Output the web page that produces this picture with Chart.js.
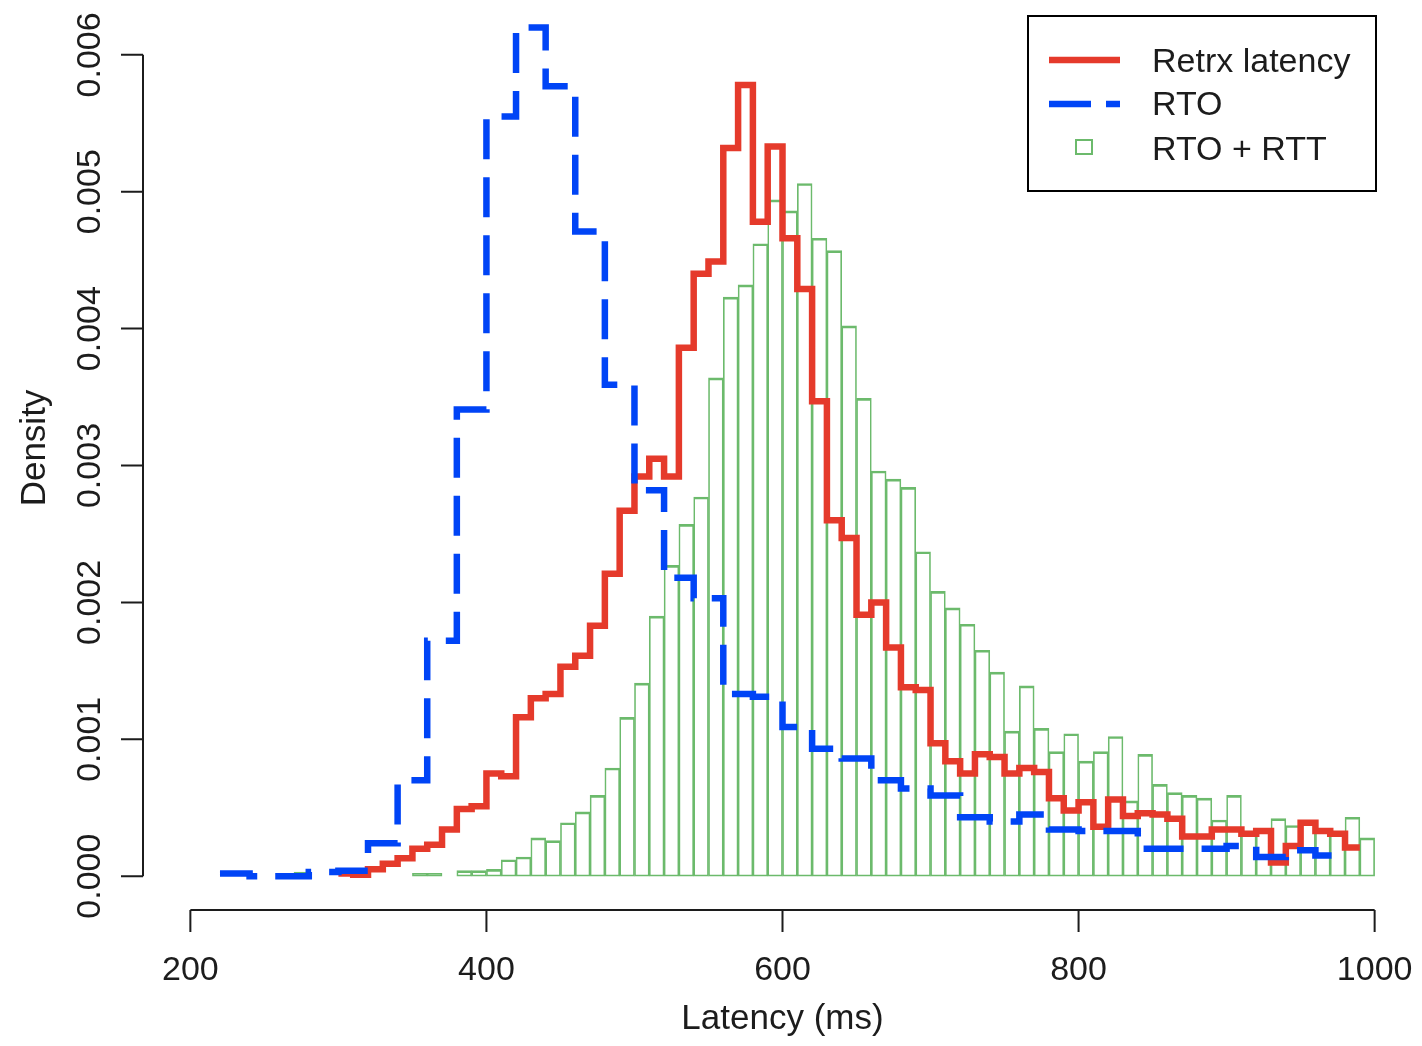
<!DOCTYPE html>
<html>
<head>
<meta charset="utf-8">
<title>Retransmission latency</title>
<script src="https://cdn.jsdelivr.net/npm/chart.js@4.4.1/dist/chart.umd.min.js"></script>
<style>
  html, body { margin: 0; padding: 0; background: #fff; }
  #wrap { width: 1422px; height: 1046px; }
</style>
</head>
<body>
<div id="wrap"><canvas id="latencyChart" width="1422" height="1046"></canvas></div>
<script>
// Axis ticks
const xTicks = [200, 400, 600, 800, 1000];
const yTicks = [0, 0.001, 0.002, 0.003, 0.004, 0.005, 0.006];
const yTickLabels = ['0.000', '0.001', '0.002', '0.003', '0.004', '0.005', '0.006'];

// Retrx latency: 10 ms bins, left edges 300 .. 980
const retrxStart = 300;
const retrxWidth = 10;
const retrxDensity = [
  0.00002, 0.00001, 0.00005, 0.00009, 0.00013, 0.00020, 0.00023, 0.00034, 0.00049, 0.00051,
  0.00075, 0.00073, 0.00116, 0.00130, 0.00133, 0.00153, 0.00161, 0.00183, 0.00221, 0.00267,
  0.00292, 0.00305, 0.00292, 0.00386, 0.00440, 0.00449, 0.00532, 0.00578, 0.00478, 0.00533,
  0.00466, 0.00429, 0.00347, 0.00260, 0.00247, 0.00191, 0.00200, 0.00167, 0.00138, 0.00136,
  0.00097, 0.00084, 0.00075, 0.00089, 0.00087, 0.00075, 0.00079, 0.00076, 0.00057, 0.00048,
  0.00054, 0.00036, 0.00056, 0.00044, 0.00046, 0.00045, 0.00042, 0.00029, 0.00029, 0.00034,
  0.00034, 0.00031, 0.00033, 0.00010, 0.00022, 0.00039, 0.00033, 0.00031, 0.00021
];

// RTO: 20 ms bins, left edges 220 .. 960
const rtoStart = 220;
const rtoWidth = 20;
const rtoDensity = [
  0.00002, 0.00000, 0.00000, 0.00003, 0.00004, 0.00024, 0.00070, 0.00172, 0.00341, 0.00555,
  0.00620, 0.00577, 0.00471, 0.00359, 0.00282, 0.00218, 0.00203, 0.00133, 0.00131, 0.00109,
  0.00093, 0.00086, 0.00070, 0.00064, 0.00059, 0.00043, 0.00040, 0.00045, 0.00034, 0.00033,
  0.00033, 0.00020, 0.00020, 0.00020, 0.00022, 0.00014, 0.00019, 0.00015
];

// RTO + RTT histogram: 10 ms bins, left edges 270 .. 990
const rttStart = 270;
const rttWidth = 10;
const rttDensity = [
  0.00003, 0.00000, 0.00000, 0.00000, 0.00000, 0.00000, 0.00000, 0.00000, 0.00002, 0.00002,
  0.00000, 0.00004, 0.00004, 0.00005, 0.00012, 0.00014, 0.00028, 0.00026, 0.00039, 0.00047,
  0.00059, 0.00079, 0.00116, 0.00141, 0.00190, 0.00227, 0.00257, 0.00277, 0.00364, 0.00423,
  0.00432, 0.00462, 0.00494, 0.00486, 0.00506, 0.00466, 0.00457, 0.00402, 0.00349, 0.00296,
  0.00290, 0.00284, 0.00237, 0.00208, 0.00196, 0.00184, 0.00165, 0.00149, 0.00106, 0.00139,
  0.00108, 0.00091, 0.00104, 0.00084, 0.00091, 0.00102, 0.00055, 0.00089, 0.00067, 0.00061,
  0.00059, 0.00057, 0.00041, 0.00059, 0.00033, 0.00035, 0.00042, 0.00037, 0.00040, 0.00033,
  0.00032, 0.00043, 0.00028
];

const red = '#e53a2b';
const blue = '#0044f6';
const green = '#6cba6c';
const ink = '#1c1c1c';
const fontFamily = '"Liberation Sans", Arial, Helvetica, sans-serif';

// step line points: one per bin left edge, plus the closing right edge
function stepPoints(start, width, values) {
  const pts = values.map((v, i) => ({ x: start + i * width, y: v }));
  pts.push({ x: start + values.length * width, y: values[values.length - 1] });
  return pts;
}

function barPoints(start, width, values) {
  return values.map((v, i) => ({ x: start + i * width + width / 2, y: v }));
}

// R style axes, labels and legend
const rStyle = {
  id: 'rStyle',
  afterDraw(chart) {
    const ctx = chart.ctx;
    const xs = chart.scales.x;
    const ys = chart.scales.y;
    const area = chart.chartArea;
    ctx.save();
    ctx.strokeStyle = ink;
    ctx.fillStyle = ink;
    ctx.lineWidth = 2;

    // x axis
    const axisY = area.bottom + 1;
    ctx.beginPath();
    ctx.moveTo(xs.getPixelForValue(xTicks[0]), axisY);
    ctx.lineTo(xs.getPixelForValue(xTicks[xTicks.length - 1]), axisY);
    xTicks.forEach(t => {
      const px = xs.getPixelForValue(t);
      ctx.moveTo(px, axisY);
      ctx.lineTo(px, axisY + 22);
    });
    ctx.stroke();

    // y axis
    const axisX = area.left;
    ctx.beginPath();
    ctx.moveTo(axisX, ys.getPixelForValue(yTicks[0]));
    ctx.lineTo(axisX, ys.getPixelForValue(yTicks[yTicks.length - 1]));
    yTicks.forEach(t => {
      const py = ys.getPixelForValue(t);
      ctx.moveTo(axisX, py);
      ctx.lineTo(axisX - 22, py);
    });
    ctx.stroke();

    ctx.font = '34px ' + fontFamily;
    ctx.textAlign = 'center';
    ctx.textBaseline = 'alphabetic';
    xTicks.forEach(t => {
      ctx.fillText(String(t), xs.getPixelForValue(t), 980);
    });
    yTicks.forEach((t, i) => {
      ctx.save();
      ctx.translate(100, ys.getPixelForValue(t));
      ctx.rotate(-Math.PI / 2);
      ctx.fillText(yTickLabels[i], 0, 0);
      ctx.restore();
    });

    // axis titles
    ctx.font = '35px ' + fontFamily;
    ctx.fillText('Latency (ms)', (xs.getPixelForValue(200) + xs.getPixelForValue(1000)) / 2, 1029);
    ctx.save();
    ctx.translate(45, 448);
    ctx.rotate(-Math.PI / 2);
    ctx.fillText('Density', 0, 0);
    ctx.restore();

    // legend box
    ctx.lineWidth = 2;
    ctx.strokeStyle = '#000';
    ctx.strokeRect(1028, 16, 348, 175);
    const items = [
      { label: chart.data.datasets[1].label, kind: 'line', color: red, cy: 60, base: 71.5 },
      { label: chart.data.datasets[0].label, kind: 'dash', color: blue, cy: 104, base: 115 },
      { label: chart.data.datasets[2].label, kind: 'box', color: green, cy: 147, base: 160 }
    ];
    ctx.font = '34px ' + fontFamily;
    ctx.textAlign = 'left';
    items.forEach(it => {
      ctx.save();
      if (it.kind === 'box') {
        ctx.strokeStyle = it.color;
        ctx.lineWidth = 2;
        ctx.strokeRect(1076, it.cy - 7, 16, 14);
      } else {
        ctx.strokeStyle = it.color;
        ctx.lineWidth = 6.5;
        ctx.lineCap = 'butt';
        ctx.setLineDash(it.kind === 'dash' ? [42, 15] : []);
        ctx.beginPath();
        ctx.moveTo(1049, it.cy);
        ctx.lineTo(1120, it.cy);
        ctx.stroke();
      }
      ctx.restore();
      ctx.fillStyle = ink;
      ctx.fillText(it.label, 1152, it.base);
    });
    ctx.restore();
  }
};

const ctx = document.getElementById('latencyChart').getContext('2d');
const latencyChart = new Chart(ctx, {
  data: {
    datasets: [
      {
        type: 'line',
        label: 'RTO',
        data: stepPoints(rtoStart, rtoWidth, rtoDensity),
        stepped: 'before',
        borderColor: blue,
        borderWidth: 6.5,
        borderDash: [40, 18],
        borderCapStyle: 'butt',
        borderJoinStyle: 'miter',
        pointRadius: 0,
        fill: false,
        order: 0
      },
      {
        type: 'line',
        label: 'Retrx latency',
        data: stepPoints(retrxStart, retrxWidth, retrxDensity),
        stepped: 'before',
        borderColor: red,
        borderWidth: 6.5,
        borderCapStyle: 'butt',
        borderJoinStyle: 'miter',
        pointRadius: 0,
        fill: false,
        order: 1
      },
      {
        type: 'bar',
        label: 'RTO + RTT',
        data: barPoints(rttStart, rttWidth, rttDensity),
        backgroundColor: 'rgba(255,255,255,0)',
        borderColor: green,
        borderWidth: { top: 2, right: 1, bottom: 1, left: 1 },
        borderSkipped: false,
        barPercentage: 1,
        categoryPercentage: 1,
        order: 2
      }
    ]
  },
  options: {
    responsive: false,
    animation: false,
    layout: {
      padding: { left: 143, right: 0, top: 22, bottom: 137 }
    },
    plugins: {
      legend: { display: false },
      tooltip: { enabled: false }
    },
    scales: {
      x: {
        type: 'linear',
        min: 168,
        max: 1032,
        offset: false,
        display: false
      },
      y: {
        type: 'linear',
        min: -0.00024,
        max: 0.00624,
        display: false
      }
    }
  },
  plugins: [rStyle]
});
</script>
</body>
</html>
